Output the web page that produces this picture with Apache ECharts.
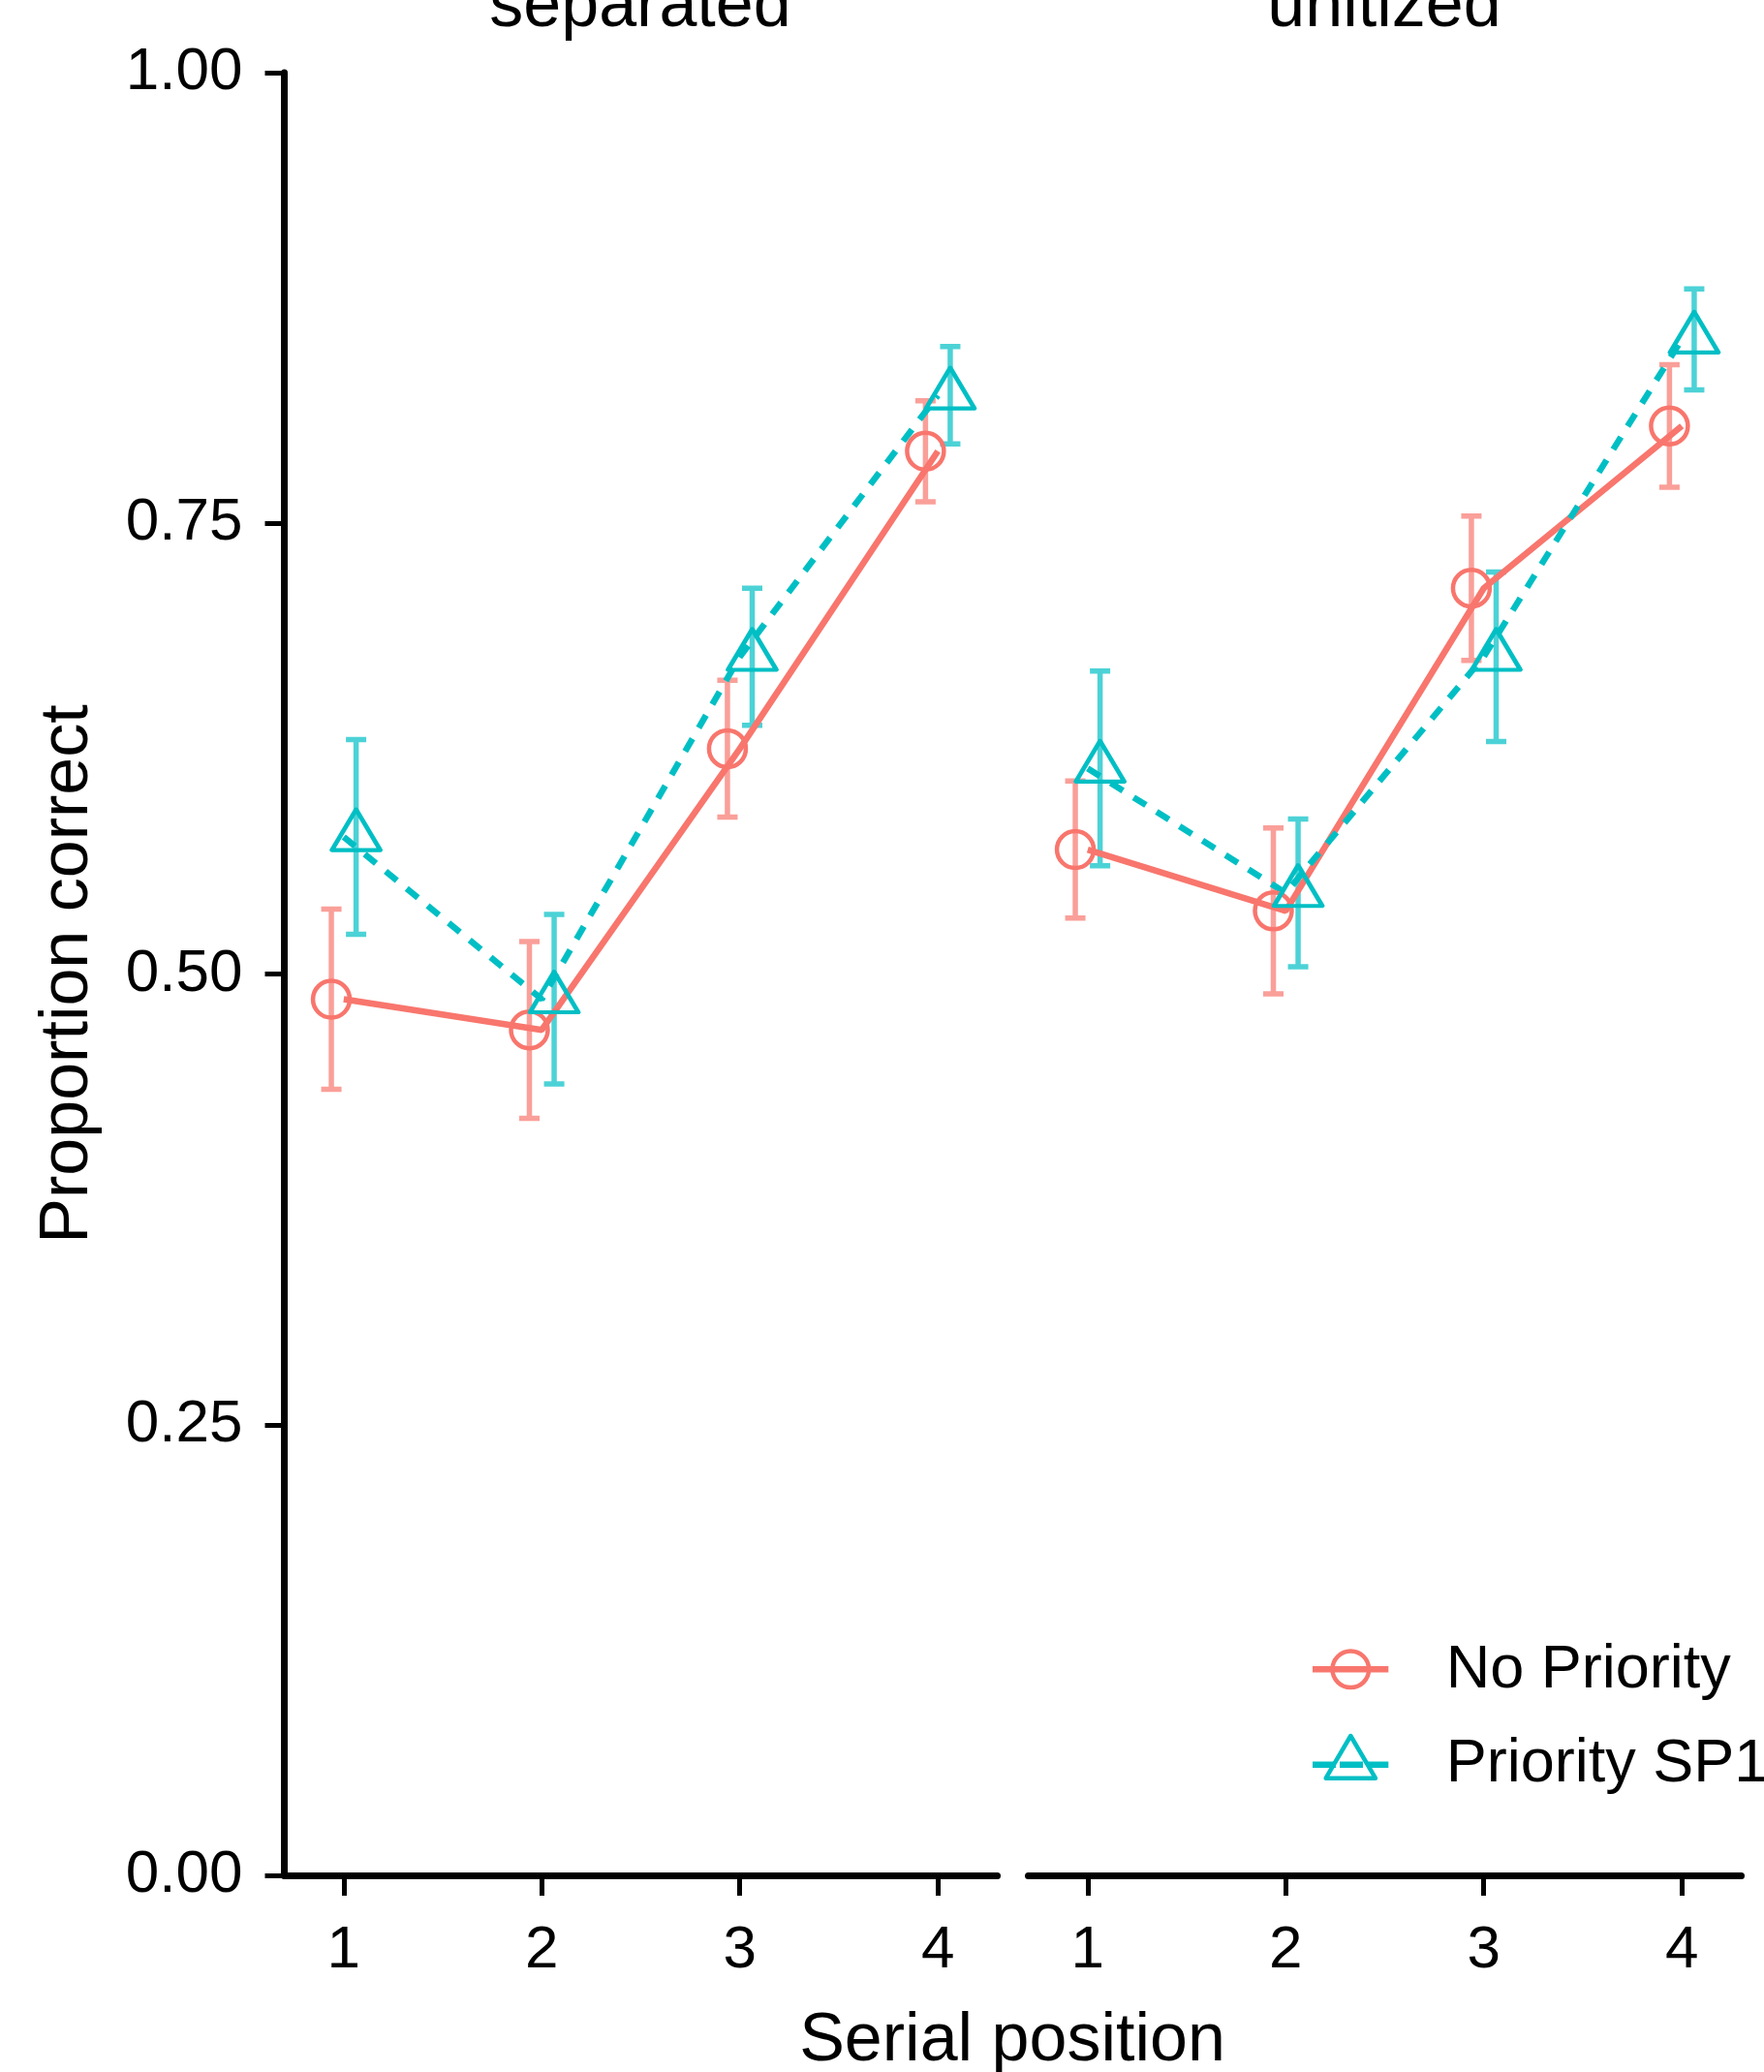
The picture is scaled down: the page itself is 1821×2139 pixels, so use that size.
<!DOCTYPE html>
<html>
<head>
<meta charset="utf-8">
<title>Proportion correct by serial position</title>
<script src="https://cdn.jsdelivr.net/npm/echarts@6.0.0/dist/echarts.min.js"></script>
<style>
html, body { margin: 0; padding: 0; background: #fff; }
#chart { width: 1821px; height: 2139px; }
</style>
</head>
<body>
<div id="chart"></div>
<script>
var serialPositions = [1, 2, 3, 4];
var yTickValues = [0, 0.25, 0.5, 0.75, 1];
var panelNames = ['separated', 'unitized'];
var groupNames = ['No Priority', 'Priority SP1'];

// means and error half-widths
var separatedNoPriority = [0.486, 0.469, 0.625, 0.790];
var separatedNoPriorityErr = [0.050, 0.049, 0.038, 0.028];
var separatedPrioritySP1 = [0.576, 0.486, 0.676, 0.821];
var separatedPrioritySP1Err = [0.054, 0.047, 0.038, 0.027];
var unitizedNoPriority = [0.569, 0.535, 0.714, 0.804];
var unitizedNoPriorityErr = [0.038, 0.046, 0.040, 0.034];
var unitizedPrioritySP1 = [0.614, 0.545, 0.676, 0.852];
var unitizedPrioritySP1Err = [0.054, 0.041, 0.047, 0.028];

var FONT = 'Liberation Sans, Arial, Helvetica, sans-serif';
var RED = '#F8766D';
var TEAL = '#00BFC4';
var DODGE = 0.0625;
var DASH = [15, 13];

var panels = [
    { name: panelNames[0], groups: [
        { mean: separatedNoPriority, err: separatedNoPriorityErr },
        { mean: separatedPrioritySP1, err: separatedPrioritySP1Err }] },
    { name: panelNames[1], groups: [
        { mean: unitizedNoPriority, err: unitizedNoPriorityErr },
        { mean: unitizedPrioritySP1, err: unitizedPrioritySP1Err }] }
];
var groupStyle = [
    { color: RED, shift: -DODGE, symbol: 'circle', size: 38, offset: [0, 0], dash: 'solid' },
    { color: TEAL, shift: DODGE, symbol: 'triangle', size: [50, 42], offset: [0, -7.5], dash: DASH }
];

function errorBarSeries(name, idx, means, errs, shift, color) {
    return {
        type: 'custom',
        name: name,
        xAxisIndex: idx,
        yAxisIndex: idx,
        z: 2,
        data: serialPositions.map(function (p, i) {
            return [p + shift, means[i] - errs[i], means[i] + errs[i]];
        }),
        encode: { x: 0, y: [1, 2] },
        renderItem: function (params, api) {
            var lo = api.coord([api.value(0), api.value(1)]);
            var hi = api.coord([api.value(0), api.value(2)]);
            var c = 10.5;
            return {
                type: 'polyline',
                shape: { points: [[hi[0] - c, hi[1]], [hi[0] + c, hi[1]], [hi[0], hi[1]],
                                  [lo[0], lo[1]], [lo[0] - c, lo[1]], [lo[0] + c, lo[1]]] },
                style: { fill: 'none', stroke: color, lineWidth: 5.5, lineJoin: 'bevel', opacity: 0.7 }
            };
        }
    };
}

var series = [];
panels.forEach(function (panel, idx) {
    panel.groups.forEach(function (g, gi) {
        var st = groupStyle[gi];
        series.push(errorBarSeries(groupNames[gi], idx, g.mean, g.err, st.shift, st.color));
        series.push({
            type: 'line',
            name: groupNames[gi],
            xAxisIndex: idx,
            yAxisIndex: idx,
            z: 3,
            symbol: 'none',
            data: serialPositions.map(function (p, i) { return [p, g.mean[i]]; }),
            lineStyle: { color: st.color, width: 6.5, type: st.dash, cap: 'butt' }
        });
        series.push({
            type: 'scatter',
            name: groupNames[gi],
            xAxisIndex: idx,
            yAxisIndex: idx,
            z: 4,
            symbol: st.symbol,
            symbolSize: st.size,
            symbolOffset: st.offset,
            data: serialPositions.map(function (p, i) { return [p + st.shift, g.mean[i]]; }),
            itemStyle: { color: 'rgba(0,0,0,0)', borderColor: st.color, borderWidth: 4.5, borderJoin: 'round', opacity: 1 }
        });
    });
});

function xAxisFor(idx) {
    return {
        type: 'value',
        gridIndex: idx,
        min: 0.7,
        max: 4.3,
        axisLine: { onZero: false, lineStyle: { color: '#000', width: 7 } },
        axisTick: { customValues: serialPositions, length: 21, lineStyle: { color: '#000', width: 5 } },
        axisLabel: { customValues: serialPositions, fontSize: 62, color: '#000', fontFamily: FONT, margin: 47 },
        splitLine: { show: false }
    };
}

var option = {
    animation: false,
    backgroundColor: '#fff',
    grid: [
        { left: 293.5, top: 75, width: 736, height: 1861, containLabel: false, outerBoundsMode: 'none' },
        { left: 1061.5, top: 75, width: 736, height: 1861, containLabel: false, outerBoundsMode: 'none' }
    ],
    xAxis: [xAxisFor(0), xAxisFor(1)],
    yAxis: [
        {
            type: 'value', gridIndex: 0, min: 0, max: 1, interval: 0.25,
            axisLine: { show: true, onZero: false, lineStyle: { color: '#000', width: 7 } },
            axisTick: { show: true, length: 20, lineStyle: { color: '#000', width: 5 } },
            axisLabel: {
                fontSize: 62, color: '#000', fontFamily: FONT, margin: 43,
                formatter: function (v) { return v.toFixed(2); }
            },
            splitLine: { show: false }
        },
        { type: 'value', gridIndex: 1, min: 0, max: 1, interval: 0.25, show: false }
    ],
    graphic: [
        { type: 'text', x: 661, y: 8, style: { text: panelNames[0], fill: '#000', font: '70px ' + FONT, textAlign: 'center', textVerticalAlign: 'middle', verticalAlign: 'middle' } },
        { type: 'text', x: 1429, y: 8, style: { text: panelNames[1], fill: '#000', font: '70px ' + FONT, textAlign: 'center', textVerticalAlign: 'middle', verticalAlign: 'middle' } },
        { type: 'text', x: 1045, y: 2108, style: { text: 'Serial position', fill: '#000', font: '70px ' + FONT, textAlign: 'center', textVerticalAlign: 'middle', verticalAlign: 'middle' } },
        { type: 'text', x: 71, y: 1005.5, rotation: Math.PI / 2, style: { text: 'Proportion correct', fill: '#000', font: '70px ' + FONT, textAlign: 'center', textVerticalAlign: 'middle', verticalAlign: 'middle' } },
        // legend keys
        { type: 'line', shape: { x1: 1355, y1: 1723.3, x2: 1433.3, y2: 1723.3 }, style: { stroke: RED, lineWidth: 6.5 } },
        { type: 'circle', shape: { cx: 1394.3, cy: 1723.3, r: 18.8 }, style: { fill: 'none', stroke: RED, lineWidth: 4.5 } },
        { type: 'line', shape: { x1: 1355, y1: 1821.7, x2: 1433.3, y2: 1821.7 }, style: { stroke: TEAL, lineWidth: 6.5, lineDash: [24, 4] } },
        { type: 'polygon', shape: { points: [[1394.3, 1792], [1368.7, 1835.7], [1419.9, 1835.7]] }, style: { fill: 'none', stroke: TEAL, lineWidth: 4.5, lineJoin: 'round' } },
        { type: 'text', x: 1492.7, y: 1724.7, style: { text: groupNames[0], fill: '#000', font: '63px ' + FONT, textAlign: 'left', textVerticalAlign: 'middle', verticalAlign: 'middle' } },
        { type: 'text', x: 1492.7, y: 1822, style: { text: groupNames[1], fill: '#000', font: '63px ' + FONT, textAlign: 'left', textVerticalAlign: 'middle', verticalAlign: 'middle' } }
    ],
    series: series
};

var chart = echarts.init(document.getElementById('chart'), null, { renderer: 'canvas' });
chart.setOption(option);
</script>
</body>
</html>
